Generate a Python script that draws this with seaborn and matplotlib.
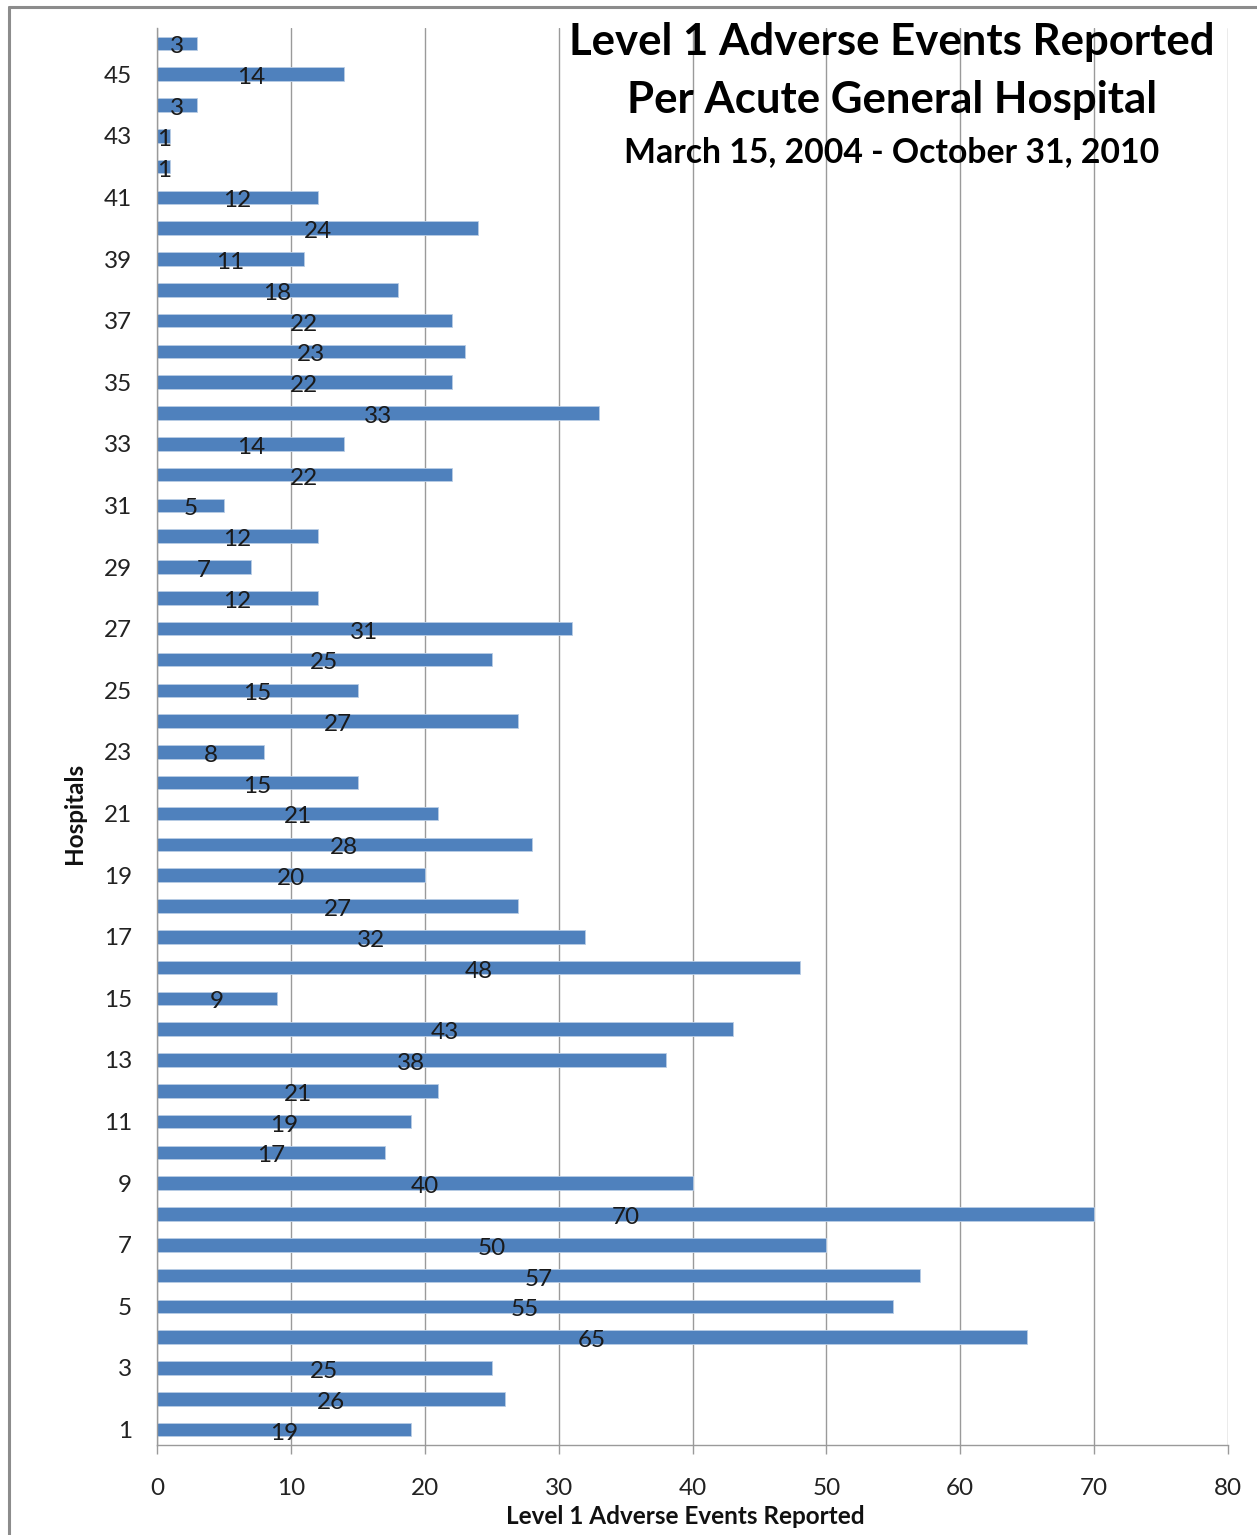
import matplotlib
matplotlib.use("Agg")
import matplotlib.pyplot as plt
from matplotlib.lines import Line2D
import seaborn as sns
import pandas as pd

# Hospital identifiers and their Level 1 adverse event counts
hospitals = list(range(1, 47))
events = [19, 26, 25, 65, 55, 57, 50, 70, 40, 17,
          19, 21, 38, 43, 9, 48, 32, 27, 20, 28,
          21, 15, 8, 27, 15, 25, 31, 12, 7, 12,
          5, 22, 14, 33, 22, 23, 22, 18, 11, 24,
          12, 1, 1, 3, 14, 3]
x_ticks = [0, 10, 20, 30, 40, 50, 60, 70, 80]
shown_hospitals = list(range(1, 47, 2))

title_lines = ["Level 1 Adverse Events Reported",
               "Per Acute General Hospital",
               "March 15, 2004 - October 31, 2010"]
x_label = "Level 1 Adverse Events Reported"
y_label = "Hospitals"

df = pd.DataFrame({"Hospital": [str(h) for h in hospitals], "Events": events})
order = [str(h) for h in reversed(hospitals)]

sns.set_theme(style="white")
plt.rcParams["font.family"] = ["Lato", "DejaVu Sans"]

W, H = 1257, 1535
fig = plt.figure(figsize=(W / 100, H / 100), dpi=100)
ax = fig.add_axes([157 / W, 1 - 1445 / H, (1228 - 157) / W, (1445 - 28) / H])

bar_color = "#4F81BD"
sns.barplot(data=df, x="Events", y="Hospital", order=order, orient="h",
            color=bar_color, saturation=1, width=0.44,
            edgecolor="#B9CDE5", linewidth=0.6, ax=ax)

# value labels centred inside each bar
for cont in ax.containers:
    labels = ax.bar_label(cont, labels=[str(v) for v in df.set_index("Hospital").loc[order, "Events"]],
                          label_type="center", fontsize=17.5, color="#1a1a1a")
    for t in labels:
        t.xyann = (0, -2.5)

ax.set_xlim(0, 80)
ax.set_ylim(len(order) - 0.5, -0.5)
ax.set_xticks(x_ticks)
ax.set_xticklabels([str(v) for v in x_ticks], fontsize=17.5, color="#222222")
ypos = [order.index(str(h)) for h in shown_hospitals]
ax.set_yticks(ypos)
ax.set_yticklabels([str(h) for h in shown_hospitals], fontsize=17.5, color="#222222")

ax.grid(axis="x", color="#9a9a9a", linewidth=1.0)
ax.grid(axis="y", visible=False)
ax.set_axisbelow(True)
for side in ["top", "right"]:
    ax.spines[side].set_visible(False)
for side in ["left", "bottom"]:
    ax.spines[side].set_color("#9a9a9a")
    ax.spines[side].set_linewidth(1.0)

ax.tick_params(axis="x", which="major", bottom=True, length=6.5, width=1.0,
               color="#9a9a9a", pad=17)
ax.tick_params(axis="y", which="major", left=False, length=0, pad=18)

ax.set_xlabel(x_label, fontsize=17.5, fontweight="bold", color="#111111")
ax.xaxis.set_label_coords((685 - 157) / (1228 - 157), -(1517 - 1445) / (1445 - 28))
ax.xaxis.label.set_va("center")
ax.set_ylabel(y_label, fontsize=17.5, fontweight="bold", color="#111111")
ax.yaxis.set_label_coords(-(157 - 75) / (1228 - 157), (1445 - 813) / (1445 - 28))
ax.yaxis.label.set_va("center")

# title block in the upper right of the plotting area
fig.text(892 / W, 1 - 42 / H, title_lines[0], ha="center", va="center",
         fontsize=31.5, fontweight="bold", color="#000000")
fig.text(892 / W, 1 - 100 / H, title_lines[1], ha="center", va="center",
         fontsize=31.5, fontweight="bold", color="#000000")
fig.text(892 / W, 1 - 152 / H, title_lines[2], ha="center", va="center",
         fontsize=24.3, fontweight="bold", color="#000000")

# outer frame on the left and top edges
fig.add_artist(Line2D([9 / W, 9 / W], [0, 1 - 7 / H], transform=fig.transFigure,
                      color="#8c8c8c", linewidth=2.2))
fig.add_artist(Line2D([9 / W, 1], [1 - 7 / H, 1 - 7 / H], transform=fig.transFigure,
                      color="#8c8c8c", linewidth=2.2))

fig.savefig("out.png", dpi=100, facecolor="white")
